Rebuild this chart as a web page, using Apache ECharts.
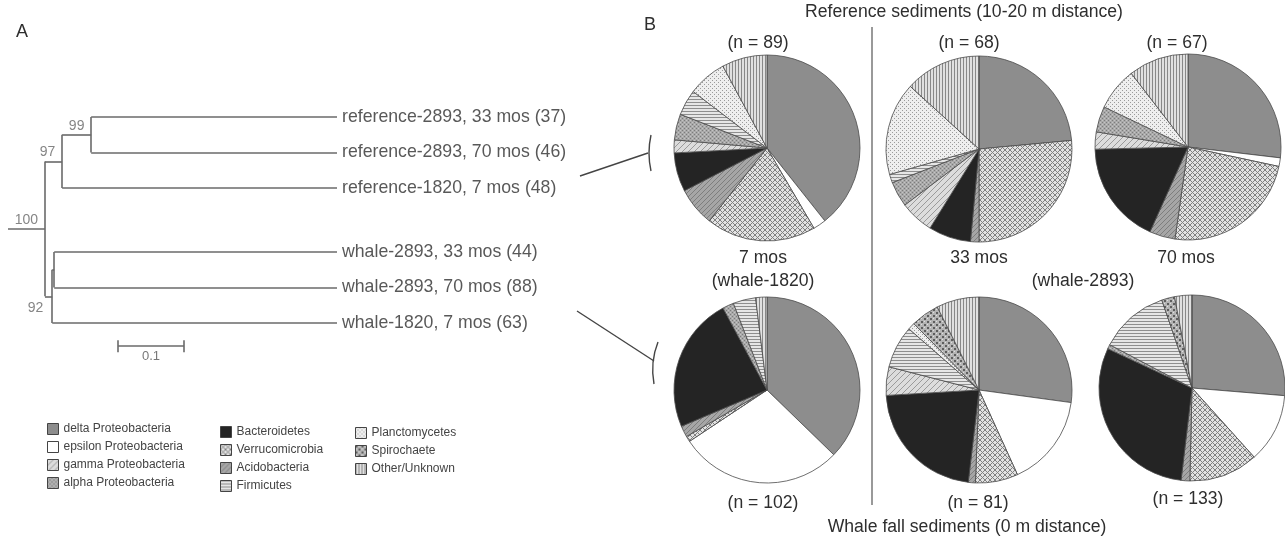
<!DOCTYPE html>
<html><head><meta charset="utf-8">
<script src="https://cdn.jsdelivr.net/npm/echarts@6/dist/echarts.min.js"></script>
<style>html,body{margin:0;padding:0;background:#fff}#c{width:1285px;height:540px}</style>
</head><body><div id="c"></div>
<script>
// ---------------- DATA ----------------
const legendCol1 = ['delta Proteobacteria','epsilon Proteobacteria','gamma Proteobacteria','alpha Proteobacteria'];
const legendCol2 = ['Bacteroidetes','Verrucomicrobia','Acidobacteria','Firmicutes'];
const legendCol3 = ['Planctomycetes','Spirochaete','Other/Unknown'];
// clockwise slice order in every pie
const sliceOrder = ['delta Proteobacteria','epsilon Proteobacteria','Verrucomicrobia','Acidobacteria','Bacteroidetes','gamma Proteobacteria','alpha Proteobacteria','Firmicutes','Planctomycetes','Spirochaete','Other/Unknown'];
// clone counts per pie, in sliceOrder
const ref7    = [35, 2,17, 6, 6, 2, 4, 4, 6, 0, 7];   // n = 89
const ref33   = [16, 0,18, 1, 5, 4, 3, 1,11, 0, 9];   // n = 68
const ref70   = [18, 1,16, 3,12, 2, 3, 0, 5, 0, 7];   // n = 67
const whale7  = [38,29, 1, 2,24, 0, 2, 4, 0, 0, 2];   // n = 102
const whale33 = [22,13, 6, 1,18, 4, 0, 6, 1, 4, 6];   // n = 81
const whale70 = [35,16,16, 2,40, 0, 1,16, 0, 3, 4];   // n = 133
const pieCounts = [89, 68, 67, 102, 81, 133];
const monthLabels = ['7 mos', '33 mos', '70 mos'];
const siteLabels = ['(whale-1820)', '(whale-2893)'];
const topTitle = 'Reference sediments (10-20 m distance)';
const bottomTitle = 'Whale fall sediments (0 m distance)';

// tree (panel A)
const leafLabels = ['reference-2893, 33 mos (37)','reference-2893, 70 mos (46)','reference-1820, 7 mos (48)','whale-2893, 33 mos (44)','whale-2893, 70 mos (88)','whale-1820, 7 mos (63)'];
const leafRows = [0, 1, 2, 3.8, 4.8, 5.8];
const leafParent = ['n99','n99','n97','nW','nW','n92'];
const leafDepth = 0.4985;
const nodeIds = ['root','n97','n99','n92','nW'];
const nodeParent = [null,'root','n97','root','n92'];
const nodeDepth = [0.056, 0.082, 0.126, 0.067, 0.070];
const nodeSupport = ['100','97','99','92',''];
const scaleBarLength = 0.1;
const scaleBarLabel = '0.1';

// ---------------- PATTERNS ----------------
function pat(size, bg, draw) {
  const c = document.createElement('canvas');
  c.width = size; c.height = size;
  const g = c.getContext('2d');
  g.fillStyle = bg; g.fillRect(0, 0, size, size);
  if (draw) draw(g, size);
  return { image: c, repeat: 'repeat' };
}
const fills = {
  'delta Proteobacteria': '#8d8d8d',
  'epsilon Proteobacteria': '#ffffff',
  'gamma Proteobacteria': pat(6, '#dcdcdc', (g) => { g.strokeStyle = '#9a9a9a'; g.lineWidth = 1; g.beginPath(); g.moveTo(0, 6); g.lineTo(6, 0); g.stroke(); }),
  'alpha Proteobacteria': pat(4, '#a9a9a9', (g) => { g.fillStyle = '#7c7c7c'; g.fillRect(0, 0, 1, 1); g.fillRect(2, 2, 1, 1); g.fillStyle = '#c4c4c4'; g.fillRect(2, 0, 1, 1); g.fillRect(0, 2, 1, 1); }),
  'Bacteroidetes': '#242424',
  'Verrucomicrobia': pat(5, '#e2e2e2', (g) => { g.strokeStyle = '#808080'; g.lineWidth = 1; g.beginPath(); g.moveTo(0, 5); g.lineTo(5, 0); g.moveTo(0, 0); g.lineTo(5, 5); g.stroke(); }),
  'Acidobacteria': pat(5, '#a6a6a6', (g) => { g.strokeStyle = '#7e7e7e'; g.lineWidth = 1; g.beginPath(); g.moveTo(0, 5); g.lineTo(5, 0); g.stroke(); }),
  'Firmicutes': pat(3, '#e6e6e6', (g) => { g.fillStyle = '#8e8e8e'; g.fillRect(0, 0, 3, 1); }),
  'Planctomycetes': pat(4, '#eeeeee', (g) => { g.fillStyle = '#9a9a9a'; g.fillRect(0, 0, 1, 1); g.fillRect(2, 2, 1, 1); }),
  'Spirochaete': pat(6, '#b4b4b4', (g) => { g.fillStyle = '#5e5e5e'; g.fillRect(0, 0, 2, 2); g.fillRect(3, 3, 2, 2); g.fillStyle = '#e0e0e0'; g.fillRect(3, 0, 1, 1); g.fillRect(0, 3, 1, 1); }),
  'Other/Unknown': pat(3, '#e0e0e0', (g) => { g.fillStyle = '#888888'; g.fillRect(0, 0, 1, 3); })
};

// ---------------- TREE ----------------
const nodes = {};
nodeIds.forEach((id, i) => { nodes[id] = { id, parent: nodeParent[i], x: nodeDepth[i], support: nodeSupport[i], children: [] }; });
leafLabels.forEach((lab, i) => { const id = 'L' + i; nodes[id] = { id, parent: leafParent[i], x: leafDepth, y: leafRows[i], children: [], leaf: true }; });
Object.values(nodes).forEach(n => { if (n.parent) nodes[n.parent].children.push(n); });
function setY(n) {
  if (n.leaf) return n.y;
  const ys = n.children.map(setY);
  n.minY = Math.min(...ys); n.maxY = Math.max(...ys);
  n.y = (n.minY + n.maxY) / 2;
  return n.y;
}
setY(nodes.root);
const segs = [];
Object.values(nodes).forEach(n => {
  const px = n.parent ? nodes[n.parent].x : 0;
  segs.push([[px, n.y], [n.x, n.y]]);
  if (!n.leaf) segs.push([[n.x, n.minY], [n.x, n.maxY]]);
});
const supportData = [];
nodeIds.forEach(id => {
  const n = nodes[id];
  if (!n.support) return;
  const px = n.parent ? nodes[n.parent].x : 0;
  const below = id === 'n92';
  const shift = id === 'n97' ? -6 : (id === 'n92' ? -13 : 0);
  supportData.push({ value: [(px + n.x) / 2, n.y], name: n.support,
    label: { position: below ? 'bottom' : 'top', distance: below ? 5 : 2, offset: [shift, 0] } });
});
const sbX0 = 0.1667, sbRow = 6.45;
const scaleSegs = [
  [[sbX0, sbRow], [sbX0 + scaleBarLength, sbRow]],
  [[sbX0, sbRow - 0.16], [sbX0, sbRow + 0.18]],
  [[sbX0 + scaleBarLength, sbRow - 0.16], [sbX0 + scaleBarLength, sbRow + 0.18]]
];

// ---------------- PIES ----------------
const pieSets = [ref7, ref33, ref70, whale7, whale33, whale70];
const pieCenters = [[767,148],[979,149],[1188,147],[767,390],[979,390],[1192,388]];
const FONT = '"Liberation Sans", Arial, Helvetica, sans-serif';
const PF = 17.6;
const pieSeries = pieSets.map((vals, k) => ({
  type: 'pie', name: 'pie' + k, center: pieCenters[k], radius: 93,
  startAngle: 90, clockwise: true, silent: true, animation: false,
  label: { show: false }, labelLine: { show: false },
  emphasis: { disabled: true },
  itemStyle: { borderColor: '#4a4a4a', borderWidth: 0.8 },
  data: sliceOrder.map((name, i) => ({ name, value: vals[i], itemStyle: { color: fills[name] } }))
    .filter(d => d.value > 0)
}));

const txt = (x, y, text, size, extra) => Object.assign({
  type: 'text', x, y, silent: true,
  style: Object.assign({ text, font: size + 'px ' + FONT, fill: '#2e2e2e', textAlign: 'center', textVerticalAlign: 'middle' }, extra || {})
});

const graphics = [
  txt(22, 32, 'A', 18),
  txt(650, 25, 'B', 18),
  txt(964, 12, topTitle, PF),
  txt(967, 527, bottomTitle, PF),
  txt(758, 43, '(n = ' + pieCounts[0] + ')', PF),
  txt(969, 43, '(n = ' + pieCounts[1] + ')', PF),
  txt(1177, 43, '(n = ' + pieCounts[2] + ')', PF),
  txt(763, 503, '(n = ' + pieCounts[3] + ')', PF),
  txt(978, 503, '(n = ' + pieCounts[4] + ')', PF),
  txt(1188, 499, '(n = ' + pieCounts[5] + ')', PF),
  txt(763, 258, monthLabels[0], PF),
  txt(979, 258, monthLabels[1], PF),
  txt(1186, 258, monthLabels[2], PF),
  txt(763, 281, siteLabels[0], PF),
  txt(1083, 281, siteLabels[1], PF),
  { type: 'line', silent: true, shape: { x1: 872, y1: 27, x2: 872, y2: 505 }, style: { stroke: '#555', lineWidth: 1.2 } },
  { type: 'line', silent: true, shape: { x1: 580, y1: 176, x2: 648, y2: 153 }, style: { stroke: '#444', lineWidth: 1.4 } },
  { type: 'bezierCurve', silent: true, shape: { x1: 651, y1: 135, cpx1: 647, cpy1: 153, x2: 651, y2: 171 }, style: { stroke: '#444', lineWidth: 1.4, fill: null } },
  { type: 'line', silent: true, shape: { x1: 577, y1: 311, x2: 654, y2: 361 }, style: { stroke: '#444', lineWidth: 1.4 } },
  { type: 'bezierCurve', silent: true, shape: { x1: 658, y1: 342, cpx1: 650, cpy1: 362, x2: 654, y2: 384 }, style: { stroke: '#444', lineWidth: 1.4, fill: null } }
];

const legendBase = {
  orient: 'vertical', itemWidth: 11, itemHeight: 11, itemGap: 6, icon: 'rect', padding: 0,
  selectedMode: false, textStyle: { fontSize: 12, color: '#444', fontFamily: FONT },
  itemStyle: { borderColor: '#444', borderWidth: 1 }
};

const chart = echarts.init(document.getElementById('c'), null, { renderer: 'canvas' });
chart.setOption({
  animation: false,
  textStyle: { fontFamily: FONT },
  grid: { left: 8, top: 117, width: 330, height: 248.5 },
  xAxis: { type: 'value', min: 0, max: 0.5, show: false },
  yAxis: { type: 'value', min: 0, max: 7, inverse: true, show: false },
  legend: [
    Object.assign({}, legendBase, { left: 47, top: 423, data: legendCol1 }),
    Object.assign({}, legendBase, { left: 220, top: 426, data: legendCol2 }),
    Object.assign({}, legendBase, { left: 355, top: 427, data: legendCol3 })
  ],
  graphic: graphics,
  series: [
    { type: 'lines', coordinateSystem: 'cartesian2d', silent: true, clip: false, animation: false,
      lineStyle: { color: '#6a6a6a', width: 1.6, opacity: 1, curveness: 0 },
      data: segs.concat(scaleSegs).map(s => ({ coords: s })) },
    { type: 'scatter', silent: true, symbolSize: 0, animation: false,
      label: { show: true, position: 'right', distance: 5, fontSize: 17.7, color: '#2e2e2e', formatter: p => leafLabels[p.dataIndex] },
      data: leafRows.map(r => [leafDepth, r]) },
    { type: 'scatter', silent: true, symbolSize: 0, animation: false,
      label: { show: true, fontSize: 14, color: '#666', formatter: p => p.name },
      data: supportData },
    { type: 'scatter', silent: true, symbolSize: 0, animation: false,
      label: { show: true, position: 'bottom', distance: 4, fontSize: 13, color: '#555', formatter: () => scaleBarLabel },
      data: [[sbX0 + scaleBarLength / 2, sbRow]] }
  ].concat(pieSeries)
});
</script>
</body></html>
